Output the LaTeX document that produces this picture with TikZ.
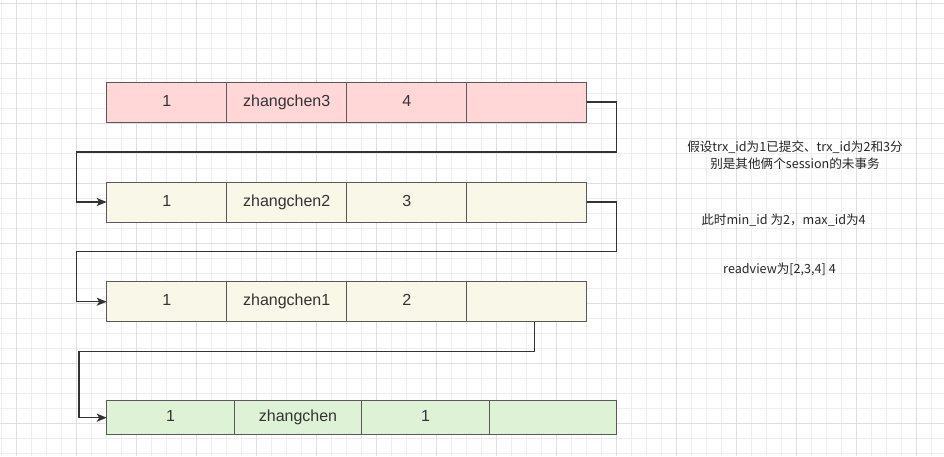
\documentclass[tikz,border=0pt]{standalone}
\usepackage{fontspec}
\setmainfont{Liberation Sans}
\newfontfamily\cjk{Noto Sans CJK SC}
\usetikzlibrary{arrows.meta,positioning,calc}

\definecolor{rowpink}{RGB}{255,215,215}
\definecolor{rowcream}{RGB}{249,247,232}
\definecolor{rowgreen}{RGB}{222,242,214}
\definecolor{gridminor}{RGB}{238,238,238}
\definecolor{gridmajor}{RGB}{222,222,222}
\definecolor{linkgray}{RGB}{51,51,51}

\begin{document}
\begin{tikzpicture}[
    x=1pt,y=-1pt,
    cell/.style={rectangle,draw=black!65,line width=0.8pt,minimum width=120pt,minimum height=40pt,
        inner sep=0pt,outer sep=0pt,text height=11.5pt,text depth=3.5pt,text=black!80,font=\fontsize{16}{19}\selectfont},
    cellwide/.style={cell,minimum width=127.5pt,minimum height=34pt},
    arrow/.style={draw=linkgray,line width=1.2pt,-{Stealth[length=10pt,width=8pt,inset=2.5pt]}},
    note/.style={align=center,text=black!85,font=\cjk\fontsize{12.6}{16.5}\selectfont}
]
    \useasboundingbox (0,0) rectangle (944,456);
    \fill[white] (0,0) rectangle (944,456);
    % background grid
    \foreach \gx in {1.7,16.7,...,943} \draw[gridminor,line width=0.8pt] (\gx,0) -- (\gx,456);
    \foreach \gy in {3.3,18.3,...,455} \draw[gridminor,line width=0.8pt] (0,\gy) -- (944,\gy);
    \foreach \gx in {16.7,76.7,...,943} \draw[gridmajor,line width=0.8pt] (\gx,0) -- (\gx,456);
    \foreach \gy in {3.3,63.3,...,455} \draw[gridmajor,line width=0.8pt] (0,\gy) -- (944,\gy);

    % row 1 (trx_id 4)
    \node[cell,fill=rowpink] (a1) at (166.7,102) {1};
    \node[cell,fill=rowpink,right=0pt of a1] (b1) {zhangchen3};
    \node[cell,fill=rowpink,right=0pt of b1] (c1) {4};
    \node[cell,fill=rowpink,right=0pt of c1] (d1) {};

    % row 2 (trx_id 3)
    \node[cell,fill=rowcream] (a2) at (166.7,202) {1};
    \node[cell,fill=rowcream,right=0pt of a2] (b2) {zhangchen2};
    \node[cell,fill=rowcream,right=0pt of b2] (c2) {3};
    \node[cell,fill=rowcream,right=0pt of c2] (d2) {};

    % row 3 (trx_id 2)
    \node[cell,fill=rowcream] (a3) at (166.7,301.7) {1};
    \node[cell,fill=rowcream,right=0pt of a3] (b3) {zhangchen1};
    \node[cell,fill=rowcream,right=0pt of b3] (c3) {2};
    \node[cell,fill=rowcream,right=0pt of c3] (d3) {};

    % row 4 (trx_id 1)
    \node[cellwide,fill=rowgreen] (a4) at (170.5,417.7) {1};
    \node[cellwide,fill=rowgreen,right=0pt of a4] (b4) {zhangchen};
    \node[cellwide,fill=rowgreen,right=0pt of b4] (c4) {1};
    \node[cellwide,fill=rowgreen,right=0pt of c4] (d4) {};

    % roll pointers
    \coordinate (bend1) at (616.7,152);
    \coordinate (back1) at (76.7,152);
    \coordinate (bend2) at (616.7,251.7);
    \coordinate (back2) at (76.7,251.7);
    \coordinate (tail3) at ($(d3.south)+(7.6,0)$);
    \coordinate (bend3) at (534.3,351.7);
    \coordinate (back3) at (78.9,351.7);
    \draw[arrow] (d1.east) -| (bend1) -- (back1) |- (a2.west);
    \draw[arrow] (d2.east) -| (bend2) -- (back2) |- (a3.west);
    \draw[arrow] (tail3) -- (bend3) -- (back3) |- (a4.west);

    % notes
    \node[note] (assume) at (795,155) {假设trx\_id为1已提交、trx\_id为2和3分\\别是其他俩个session的未事务};
    \node[note] (range) at (783.5,220) {此时min\_id 为2，max\_id为4};
    \node[note] (view) at (779.5,269) {readview为[2,3,4] 4};
\end{tikzpicture}
\end{document}
